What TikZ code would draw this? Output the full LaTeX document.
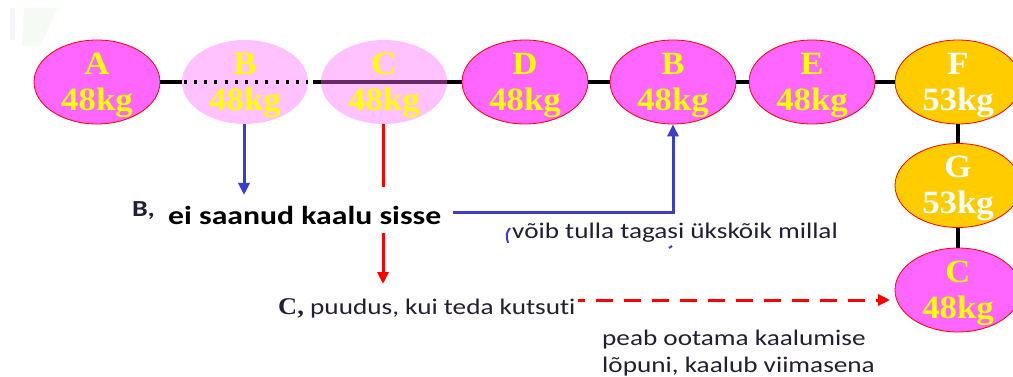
\documentclass[tikz,border=0pt]{standalone}
\usepackage{fontspec}
\usetikzlibrary{shapes.geometric,arrows.meta,calc}
\newfontfamily\labfont[FakeStretch=1.07]{Liberation Serif}
\newfontfamily\txtfont[FakeStretch=1.22,Ligatures=NoCommon]{Carlito}
\newfontfamily\serb[FakeStretch=1.1]{Liberation Serif}
\definecolor{mag}{RGB}{255,102,255}
\definecolor{gold}{RGB}{255,204,0}
\definecolor{ylw}{RGB}{255,255,0}
\definecolor{bl}{RGB}{60,60,205}
\definecolor{rd}{RGB}{255,0,0}
\definecolor{ink}{RGB}{35,30,50}
\begin{document}
\begin{tikzpicture}[x=1pt,y=-1pt,
  ell/.style={ellipse,minimum width=126pt,minimum height=84pt,inner sep=0pt},
  full/.style={ell,fill=mag,draw=rd,line width=0.8pt},
  faded/.style={ell,fill=mag,fill opacity=0.4},
  goldel/.style={ell,fill=gold,draw=rd,line width=0.8pt},
  lab/.style={font=\labfont\bfseries\fontsize{32.5}{36}\selectfont,align=center,text=ylw,inner sep=0pt},
  wlab/.style={lab,text=white},
  link/.style={line width=3.5pt,black},
  barrow/.style={line width=3pt,bl,-{Triangle[length=12pt,width=11pt]}},
  rarrow/.style={line width=3pt,rd,-{Triangle[length=12pt,width=11pt]}},
  body/.style={font=\txtfont\fontsize{22.3}{27}\selectfont,text=ink,inner sep=0pt},
]
\useasboundingbox (0,0) rectangle (1013,377);
% faint slide decoration top-left
\fill[green!30!gray,opacity=0.06] (24,8) -- (58,8) -- (40,46) -- (22,46) -- cycle;
\fill[blue!40!gray,opacity=0.06] (10,8) rectangle (15,40);

% ellipses
\node[full] (eA) at (97,82) {};
\node[ell] (eB) at (245,82) {};
\node[ell] (eC) at (384,82) {};
\node[full] (eD) at (525,82) {};
\node[full] (eB2) at (673,82) {};
\node[full] (eE) at (812,82) {};
\node[goldel] (eF) at (958,82) {};
\node[goldel] (eG) at (958,185.5) {};
\node[full] (eC2) at (958,290) {};

% links
\draw[link] (eA.east) -- (eB.west);
\draw[link] ([xshift=5pt]eB.east) -- (eD.west);
\draw[link] (eD.east) -- (eB2.west);
\draw[link] (eB2.east) -- (eE.west);
\draw[link] (eE.east) -- (eF.west);
\draw[link] (eF.south) -- (eG.north);
\draw[link] (eG.south) -- (eC2.north);

% faded ellipses on top of the line
\node[faded] (fB) at (eB.center) {};
\node[faded] (fC) at (eC.center) {};
\draw[line width=3.5pt,dash pattern=on 3pt off 7.2pt] ([xshift=2pt]eB.west) -- (eB.east);

% labels
\node[lab] (tA) at ([yshift=-3.3pt]eA.center) {A\\48kg};
\node[lab] (tB) at ([yshift=-3.3pt]eB.center) {B\\48kg};
\node[lab] (tC) at ([yshift=-3.3pt]eC.center) {C\\48kg};
\node[lab] (tD) at ([yshift=-3.3pt]eD.center) {D\\48kg};
\node[lab] (tB2) at ([yshift=-3.3pt]eB2.center) {B\\48kg};
\node[lab] (tE) at ([yshift=-3.3pt]eE.center) {E\\48kg};
\node[wlab] (tF) at ([yshift=-3.3pt]eF.center) {F\\53kg};
\node[wlab] (tG) at ([yshift=-3.3pt]eG.center) {G\\53kg};
\node[lab] (tC2) at ([yshift=-3.3pt]eC2.center) {C\\48kg};

% coordinates
\coordinate (bend) at (244,195);
\coordinate (bst) at (453,213);
\coordinate (rend) at (383,284);
\coordinate (rst) at (578,300);
\coordinate (rend2) at (890,300);

% red arrows (the vertical one passes behind the text)
\draw[rarrow] (eC.south -| rend) -- (rend);
\draw[rarrow,dash pattern=on 17pt off 11pt,dash phase=10pt] (rst) -- (rend2);

% texts
\node[anchor=base west,font=\txtfont\bfseries\fontsize{23}{26}\selectfont,text=ink,inner sep=0pt] (tBc) at (132,216) {B,};
\node[anchor=base west,font=\txtfont\bfseries\fontsize{26}{30}\selectfont,text=black,fill=white,inner xsep=2pt,inner ysep=0pt,text height=38pt,text depth=8pt] (tEi) at (166,225) {ei saanud kaalu sisse};

% blue arrows
\draw[barrow] (eB.south -| bend) -- (bend);
\draw[barrow] (bst) -| (eB2.south);

\draw[bl,line width=2pt] (510,228) .. controls (506,234) .. (508,243);
\draw[bl,line width=2pt] (669,248) -- (672,246);
\node[body,anchor=base west] (tVoib) at (512,238) {võib tulla tagasi ükskõik millal};
\node[anchor=base west,font=\serb\bfseries\fontsize{24}{28}\selectfont,text=ink,inner sep=0pt] (tCc) at (278,314) {C,};
\node[body,anchor=base west] (tPuu) at (310,314) {puudus, kui teda kutsuti};
\node[body,anchor=north west,align=left] (tPeab) at (602,330) {peab ootama kaalumise\\lõpuni, kaalub viimasena};
\end{tikzpicture}
\end{document}
